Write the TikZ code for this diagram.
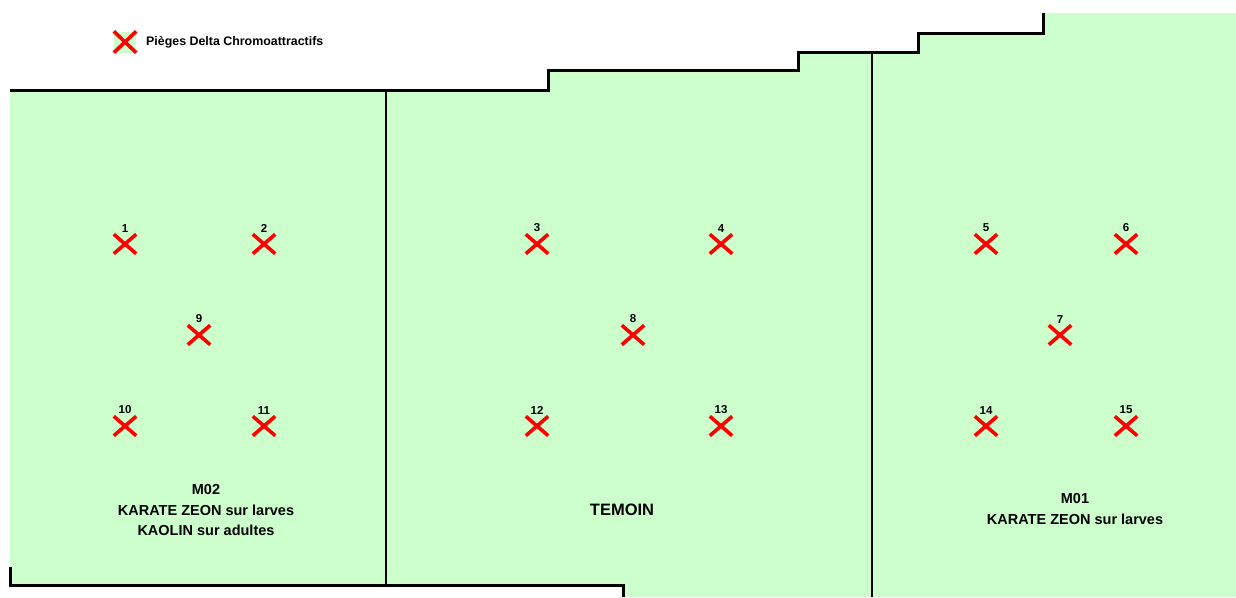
\documentclass[tikz,border=0pt]{standalone}
\usepackage{fontspec}
\setmainfont{Liberation Sans}
\definecolor{fieldgreen}{HTML}{CCFFCC}
\definecolor{trapred}{HTML}{FF0000}
\begin{document}
\begin{tikzpicture}[x=1pt,y=-1pt,
  trap/.style={minimum width=22pt,minimum height=19pt,inner sep=0pt,
    label={[numlab]above:#1}},
  numlab/.style={font=\bfseries\fontsize{11.5}{12}\selectfont,inner sep=0.5pt,label distance=1.5pt},
  crossline/.style={trapred,line width=3.6pt},
  thickborder/.style={line width=3pt,black},
  divider/.style={line width=1.4pt,black},
  zonelab/.style={font=\bfseries\fontsize{14.5}{20.5}\selectfont,align=center,inner sep=0pt},
  legendtxt/.style={font=\bfseries\fontsize{12.4}{14}\selectfont,anchor=west,inner sep=0pt}
]
\useasboundingbox (0,0) rectangle (1236,597);
% field
\fill[fieldgreen] (10,90) -- (548,90) -- (548,70) -- (798,70) -- (798,52) -- (918,52) -- (918,33)
  -- (1043,33) -- (1043,13) -- (1236,13) -- (1236,597) -- (623,597) -- (623,585) -- (10,585) -- cycle;
% borders
\coordinate (s0) at (10,90);
\coordinate (s1) at (548,90);
\coordinate (s2) at (548,70);
\coordinate (s3) at (798,70);
\coordinate (s4) at (798,52);
\coordinate (s5) at (918,52);
\coordinate (s6) at (918,33);
\coordinate (s7) at (1043,33);
\coordinate (s8) at (1043,13);
\draw[thickborder] (s0) -- (s1) -- (s2) -- (s3) -- (s4) -- (s5) -- (s6) -- (s7) -- (s8);
\coordinate (b0) at (10,567);
\coordinate (b1) at (10,585);
\coordinate (b2) at (623,585);
\coordinate (b3) at (623,597);
\draw[thickborder] (b0) -- (b1) -- (b2) -- (b3);
\coordinate (d1t) at (386,90);
\coordinate (d1b) at (386,585);
\coordinate (d2t) at (872,52);
\coordinate (d2b) at (872,597);
\draw[divider] (d1t) -- (d1b);
\draw[divider] (d2t) -- (d2b);
% legend
\node[minimum width=22pt,minimum height=21pt,inner sep=0pt,fill=fieldgreen] (leg) at (125,42) {};
\draw[crossline] (leg.north west) -- (leg.south east);
\draw[crossline] (leg.south west) -- (leg.north east);
\node[legendtxt] (legtext) at (146,42) {Pièges Delta Chromoattractifs};
% traps
\foreach \n/\x/\y in {1/125/244, 2/264/244, 9/199/335, 10/125/426, 11/264/426,
  3/537/244, 4/721/244, 8/633/335, 12/537/426, 13/721/426,
  5/986/244, 6/1126/244, 7/1060/335, 14/986/426, 15/1126/426}{
  \node[trap=\n] (t\n) at (\x,\y) {};
  \draw[crossline] (t\n.north west) -- (t\n.south east);
  \draw[crossline] (t\n.south west) -- (t\n.north east);
}
% zone labels
\node[zonelab] (m02) at (206,510) {M02\\KARATE ZEON sur larves\\KAOLIN sur adultes};
\node[zonelab,font=\bfseries\fontsize{16.5}{20}\selectfont] (temoin) at (622,510) {TEMOIN};
\node[zonelab] (m01) at (1075,509) {M01\\KARATE ZEON sur larves};
\end{tikzpicture}
\end{document}
